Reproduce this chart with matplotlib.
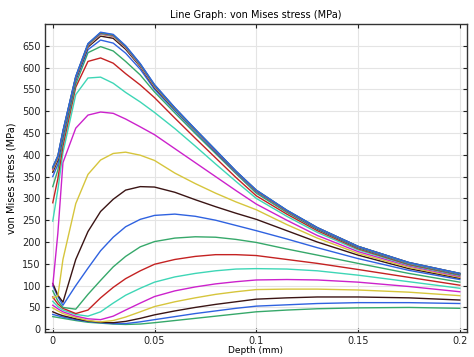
import matplotlib
matplotlib.use("Agg")
import matplotlib.pyplot as plt
from matplotlib.ticker import FixedLocator, FuncFormatter

# depth sample points (mm)
depth = [0, 0.0025, 0.005, 0.0113, 0.0173, 0.0235, 0.0297, 0.0358, 0.043, 0.05,
         0.06, 0.07, 0.08, 0.09, 0.1, 0.115, 0.13, 0.15, 0.175, 0.2]

# von Mises stress (MPa), one list per curve, top to bottom
s01 = [372, 398, 455, 580, 655, 681, 676, 650, 609, 561, 508, 459, 411, 363, 319, 273, 233, 190, 153, 128]
s02 = [371, 397, 454, 579, 654, 680, 675, 649, 608, 560, 507, 458, 411, 362, 319, 273, 233, 190, 153, 128]
s03 = [370, 396, 453, 578, 653, 679, 674, 648, 607, 559, 507, 458, 410, 362, 318, 272, 233, 190, 153, 128]
s04 = [369, 395, 452, 578, 652, 678, 673, 647, 606, 558, 506, 457, 410, 362, 318, 272, 232, 190, 152, 127.5]
s05 = [367, 394, 451, 577, 651, 677, 672, 646, 605, 557, 506, 457, 409, 361, 318, 272, 232, 189.5, 152, 127.5]
s06 = [365, 392, 450, 576, 650, 676, 671, 645, 604, 556, 505, 456, 409, 361, 317, 271, 232, 189.5, 152, 127.5]
s07 = [360, 388, 447, 574, 647, 672, 667, 642, 602, 554, 504, 456, 408, 361, 317, 271, 231, 189, 152, 127]
s08 = [350, 378, 440, 570, 641, 663, 656, 633, 596, 550, 501, 453, 406, 359, 315, 270, 230, 188, 151, 126.5]
s09 = [327, 365, 432, 562, 634, 648, 638, 614, 583, 544, 496, 449, 403, 357, 312, 268, 229, 186.5, 150, 125.5]
s10 = [290, 345, 420, 555, 614, 622, 610, 586, 560, 531, 484, 438, 393, 348, 306, 264, 226, 184.5, 148.5, 124.5]
s11 = [248, 320, 405, 538, 576, 578, 564, 543, 521, 497, 460, 420, 379, 339, 300, 259, 222, 182, 147, 123]
s12 = [100, 220, 382, 461, 491, 498, 495, 482, 464, 446, 414, 382, 350, 318, 287, 250, 215, 178, 145, 121]
s13 = [72, 76, 160, 288, 355, 388, 403, 406, 399, 387, 358, 334, 312, 292, 274, 240, 209, 174, 142, 119]
s14 = [105, 78, 62, 160, 224, 270, 298, 319, 327, 326, 314, 297, 281, 266, 252, 226, 200, 170, 139, 117]
s15 = [100, 75, 55, 100, 140, 180, 211, 235, 252, 261, 264, 259, 250, 238, 226, 207, 187, 162, 135, 114]
s16 = [88, 65, 50, 46, 80, 112, 143, 167, 189, 201, 209, 212, 211, 206, 199, 184, 170, 151, 128, 108]
s17 = [74, 58, 48, 36, 44, 72, 96, 116, 134, 149, 160, 167, 171, 171, 169, 160, 151, 137, 119, 101]
s18 = [64, 52, 44, 34, 30, 40, 60, 78, 94, 108, 120, 128, 134, 138, 139, 138, 134, 124, 109, 94]
s19 = [55, 47, 40, 30, 24, 22, 30, 44, 60, 75, 88, 97, 104, 109, 113, 114, 113, 108, 98, 86]
s20 = [49, 42, 36, 27, 20, 17, 20, 28, 40, 52, 63, 72, 80, 86, 91, 92, 92, 90, 85, 77]
s21 = [40, 35, 31, 24, 19, 16, 15, 18, 25, 33, 42, 50, 57, 63, 69, 72, 74, 74, 72, 67]
s22 = [34, 31, 28, 22, 18, 15, 13, 13, 17, 22, 29, 36, 42, 48, 53, 56, 59, 61, 61, 59]
s23 = [29, 27, 25, 20, 16, 14, 12, 11, 12, 15, 20, 25, 30, 35, 40, 44, 47, 49, 50, 48]

curves = [s01, s02, s03, s04, s05, s06, s07, s08, s09, s10, s11, s12,
          s13, s14, s15, s16, s17, s18, s19, s20, s21, s22, s23]

cycle = ["#2f62e0", "#36a86a", "#c42222", "#3ed6b6", "#cc22cc", "#d6c53c", "#3a1414"]

fig = plt.figure(figsize=(4.74, 3.57), dpi=100)
ax = fig.add_axes([0.095, 0.071, 0.89, 0.862])

for i, s in enumerate(curves):
    ax.plot(depth, s, color=cycle[i % len(cycle)], lw=1.0, zorder=3 + (len(curves) - i) * 0.01)

ax.set_xlim(-0.0038, 0.2035)
ax.set_ylim(-5.5, 700)
ax.xaxis.set_major_locator(FixedLocator([0, 0.05, 0.1, 0.15, 0.2]))
ax.yaxis.set_major_locator(FixedLocator(list(range(0, 651, 50))))
ax.xaxis.set_major_formatter(FuncFormatter(lambda v, p: f"{v:g}"))
ax.grid(True, color="#e4e4e4", lw=0.8, zorder=0)
ax.tick_params(direction="in", length=3, width=0.8, labelsize=7, colors="#222222",
               top=True, right=True, pad=3)
for sp in ax.spines.values():
    sp.set_color("#333333")
    sp.set_linewidth(1.0)

ax.set_title("Line Graph: von Mises stress (MPa)", fontsize=7, pad=4)
ax.set_xlabel("Depth (mm)", fontsize=6.5, labelpad=0)
ax.set_ylabel("von Mises stress (MPa)", fontsize=7, labelpad=4)

fig.savefig("out.png", dpi=100)
